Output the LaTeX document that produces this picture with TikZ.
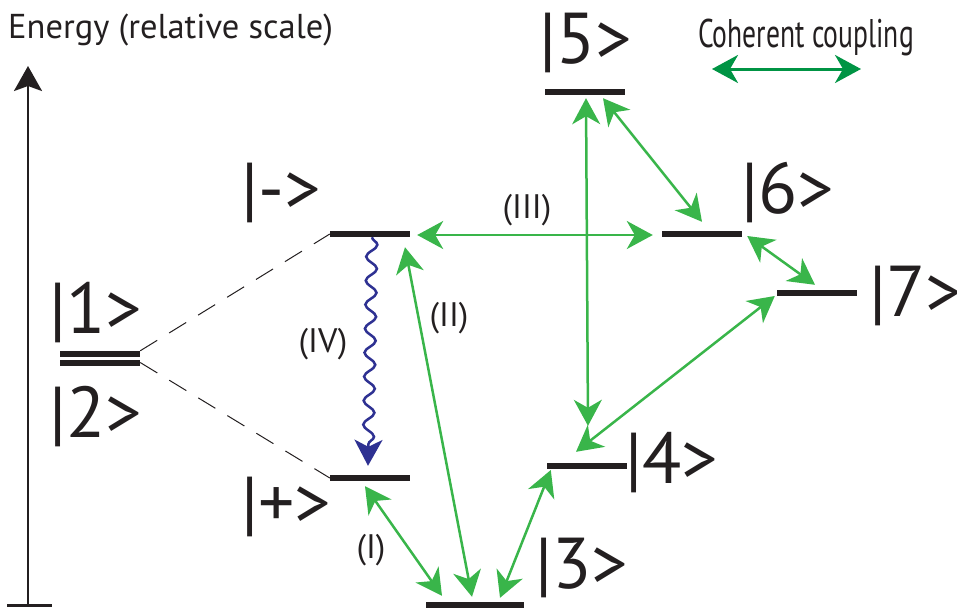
\documentclass[tikz,border=0pt]{standalone}
\usepackage{fontspec}
\setmainfont{PT Sans}
\usepackage{tikz}
\usetikzlibrary{arrows.meta,calc,decorations.pathmorphing}
\definecolor{couplegreen}{RGB}{57,181,74}
\definecolor{legendgreen}{RGB}{0,148,68}
\definecolor{decayblue}{RGB}{46,49,146}
\definecolor{inkblack}{RGB}{35,31,32}
\tikzset{
  energy level/.style={rectangle,fill=inkblack,minimum width=80pt,
    minimum height=6pt,inner sep=0pt},
  ket label/.style={anchor=base west,inner sep=0pt,text=inkblack,
    font=\fontsize{72}{72}\selectfont},
  process label/.style={inner sep=0pt,text=inkblack,
    font=\fontsize{34}{34}\selectfont},
  coupling arrow/.style={{Stealth[length=26pt,width=28pt,inset=8pt]}-{Stealth[length=26pt,width=28pt,inset=8pt]},
    couplegreen,line width=2.5pt},
  decay arrow/.style={-{Stealth[length=26pt,width=28pt,inset=7pt]},
    decayblue,line width=2.5pt,decorate,
    decoration={snake,amplitude=5.5pt,segment length=24pt,post length=12pt}},
  dashed link/.style={inkblack,line width=1pt,dash pattern=on 20pt off 14pt}
}

\begin{document}
\begin{tikzpicture}[x=1pt,y=-1pt]
    \useasboundingbox (0,0) rectangle (957,611);
    \coordinate (axisbase) at (28,605);
    \coordinate (axistop) at (28,66);
    \draw[inkblack,line width=2.5pt,-{Stealth[length=25pt,width=28pt,inset=5pt]}]
      (axisbase) -- (axistop);
    \draw[inkblack,line width=3pt]
      ([xshift=-21pt]axisbase) -- ([xshift=24pt]axisbase);
    \node[anchor=base west,inner sep=0pt,text=inkblack,
      font=\fontsize{34.5}{34.5}\selectfont] (energylabel) at (8,38)
      {Energy (relative scale)};
    \node[energy level] (one) at (100,354) {};
    \node[energy level] (two) at (100,362.5) {};
    \node[energy level] (minus) at (370,234) {};
    \node[energy level] (plus) at (370,478) {};
    \node[energy level,minimum width=98pt] (three) at (475,605) {};
    \node[energy level] (four) at (587,466) {};
    \node[energy level] (five) at (585,92) {};
    \node[energy level] (six) at (702,234) {};
    \node[energy level] (seven) at (817,293) {};
    \node[ket label] (oneket) at (49,333) {|1>};
    \node[ket label] (twoket) at (49,437) {|2>};
    \node[ket label] (minusket) at (241,213) {|->};
    \node[ket label] (plusket) at (241,527) {|+>};
    \node[ket label] (threeket) at (535,588) {|3>};
    \node[ket label] (fourket) at (625,483) {|4>};
    \node[ket label] (fiveket) at (539,63) {|5>};
    \node[ket label] (sixket) at (741,213) {|6>};
    \node[ket label] (sevenket) at (869,316) {|7>};
    \draw[dashed link] (one.north east) -- (minus.west);
    \draw[dashed link] (two.east) -- (plus.west);
    \draw[coupling arrow] ($(plus.south)+(-5,5)$) -- ($(three.north)+(-33,-6)$);
    \draw[coupling arrow] ($(minus.south)+(35,10)$) -- ($(three.north)+(-3,-5)$);
    \draw[coupling arrow] ($(minus.east)+(7,1)$) -- ($(six.west)+(-9,1)$);
    \draw[coupling arrow] ($(three.north)+(25,-4)$) -- ($(four.west)+(4,4)$);
    \draw[coupling arrow] ($(four.north)+(-11,-11)$) -- ($(seven.west)+(-2,3)$);
    \draw[coupling arrow] ($(five.south)+(1,3)$) -- ($(four.north)+(1,-37)$);
    \draw[coupling arrow] ($(five.south)+(18,3)$) -- ($(six.north)+(0,-9)$);
    \draw[coupling arrow] ($(six.east)+(5,2)$) -- ($(seven.north)+(-2,-5)$);
    \draw[decay arrow] ([xshift=2pt]minus.south) -- ($(plus.north)+(-2,-9)$);
    \node[process label] (proci) at (371,550) {(I)};
    \node[process label] (procii) at (449,318) {(II)};
    \node[process label] (prociii) at (527,210) {(III)};
    \node[process label] (prociv) at (323,344) {(IV)};
    \coordinate (legendleft) at (712,69);
    \coordinate (legendright) at (861,69);
    \draw[coupling arrow,legendgreen,line width=3pt] (legendleft) -- (legendright);
    \node[anchor=base,inner sep=0pt,text=inkblack,
      font=\fontsize{40}{40}\selectfont] (legendtext) at (806,47)
      {\scalebox{0.69}[1]{Coherent coupling}};
  \end{tikzpicture}
\end{document}
